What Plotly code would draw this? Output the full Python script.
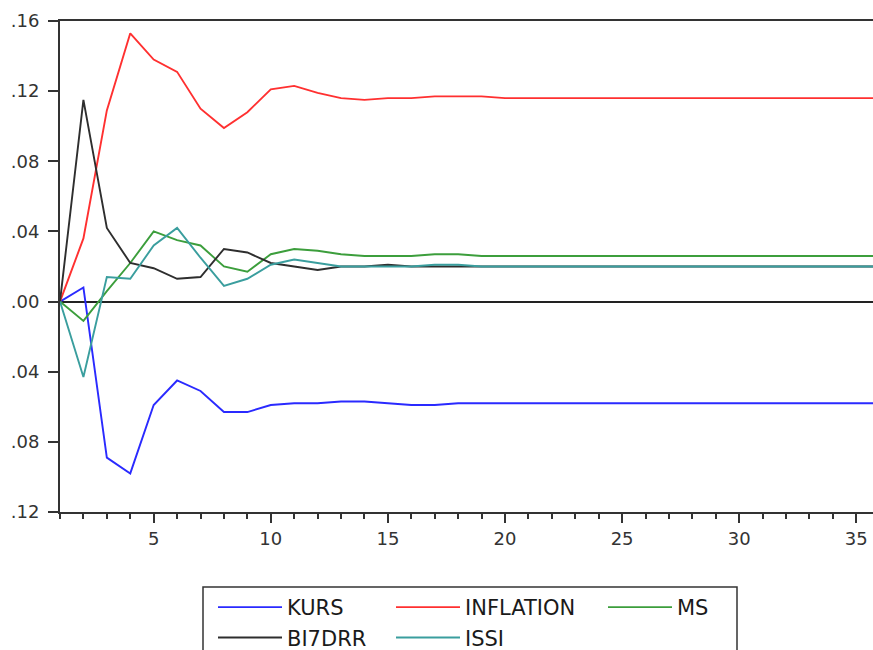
import plotly.graph_objects as go

# ---- data ----
periods = [1, 2, 3, 4, 5, 6, 7, 8, 9, 10, 11, 12,
           13, 14, 15, 16, 17, 18, 19, 20, 21, 22, 23, 24,
           25, 26, 27, 28, 29, 30, 31, 32, 33, 34, 35, 36, 37]

kurs = [0.000, 0.008, -0.089, -0.098, -0.059, -0.045,
        -0.051, -0.063, -0.063, -0.059, -0.058, -0.058,
        -0.057, -0.057, -0.058, -0.059, -0.059, -0.058,
        -0.058, -0.058, -0.058, -0.058, -0.058, -0.058,
        -0.058, -0.058, -0.058, -0.058, -0.058, -0.058,
        -0.058, -0.058, -0.058, -0.058, -0.058, -0.058, -0.058]

inflation = [0.000, 0.036, 0.109, 0.153, 0.138, 0.131,
             0.110, 0.099, 0.108, 0.121, 0.123, 0.119,
             0.116, 0.115, 0.116, 0.116, 0.117, 0.117,
             0.117, 0.116, 0.116, 0.116, 0.116, 0.116,
             0.116, 0.116, 0.116, 0.116, 0.116, 0.116,
             0.116, 0.116, 0.116, 0.116, 0.116, 0.116, 0.116]

ms = [0.000, -0.011, 0.006, 0.022, 0.040, 0.035,
      0.032, 0.020, 0.017, 0.027, 0.030, 0.029,
      0.027, 0.026, 0.026, 0.026, 0.027, 0.027,
      0.026, 0.026, 0.026, 0.026, 0.026, 0.026,
      0.026, 0.026, 0.026, 0.026, 0.026, 0.026,
      0.026, 0.026, 0.026, 0.026, 0.026, 0.026, 0.026]

bi7drr = [0.000, 0.115, 0.042, 0.022, 0.019, 0.013,
          0.014, 0.030, 0.028, 0.022, 0.020, 0.018,
          0.020, 0.020, 0.021, 0.020, 0.020, 0.020,
          0.020, 0.020, 0.020, 0.020, 0.020, 0.020,
          0.020, 0.020, 0.020, 0.020, 0.020, 0.020,
          0.020, 0.020, 0.020, 0.020, 0.020, 0.020, 0.020]

issi = [0.000, -0.043, 0.014, 0.013, 0.032, 0.042,
        0.025, 0.009, 0.013, 0.021, 0.024, 0.022,
        0.020, 0.020, 0.020, 0.020, 0.021, 0.021,
        0.020, 0.020, 0.020, 0.020, 0.020, 0.020,
        0.020, 0.020, 0.020, 0.020, 0.020, 0.020,
        0.020, 0.020, 0.020, 0.020, 0.020, 0.020, 0.020]

series_names = ["KURS", "INFLATION", "MS", "BI7DRR", "ISSI"]
series_values = [kurs, inflation, ms, bi7drr, issi]
series_colors = ["#2a2aff", "#ff3030", "#3c9e3c", "#2e2e2e", "#3a9e9e"]
series_legends = ["legend", "legend2", "legend3", "legend", "legend2"]

y_tickvals = [0.16, 0.12, 0.08, 0.04, 0.00, -0.04, -0.08, -0.12]
y_ticktext = [".16", ".12", ".08", ".04", ".00", ".04", ".08", ".12"]

# ---- figure geometry ----
W, H = 873, 650
L, R, T, B = 60, 0, 21, 138
PW = W - L - R
PH = H - T - B
PX_PER_PERIOD = 23.42


def px_x(px):
    return (px - L) / PW


def px_y(py):
    return (H - B - py) / PH


fig = go.Figure()
for name, vals, color, leg in zip(series_names, series_values, series_colors, series_legends):
    fig.add_trace(go.Scatter(x=periods, y=vals, mode="lines", name=name,
                             line=dict(color=color, width=1.9), legend=leg,
                             hoverinfo="x+y+name"))

legend_common = dict(orientation="v", xanchor="left", yanchor="top",
                     bgcolor="rgba(0,0,0,0)", borderwidth=0, itemwidth=64,
                     tracegroupgap=0,
                     font=dict(family="DejaVu Sans", size=21, color="#1a1a1a"))

axis_col = "#333333"
tick_font = dict(family="DejaVu Sans", size=18, color="#333333")
fig.update_layout(
    width=W, height=H,
    margin=dict(l=L, r=R, t=T, b=B, autoexpand=False),
    paper_bgcolor="white", plot_bgcolor="white",
    showlegend=True,
    legend=dict(x=px_x(213), y=px_y(587), **legend_common),
    legend2=dict(x=px_x(391), y=px_y(587), **legend_common),
    legend3=dict(x=px_x(603), y=px_y(587), **legend_common),
    xaxis=dict(range=[1, 1 + PW / PX_PER_PERIOD], tickmode="linear", tick0=0, dtick=5,
               ticks="outside", ticklen=9, tickwidth=1.5, tickcolor=axis_col,
               showline=True, linewidth=2, linecolor=axis_col, mirror=True,
               showgrid=False, zeroline=False,
               minor=dict(dtick=1, tick0=0, ticks="outside", ticklen=5,
                          tickwidth=1.5, tickcolor=axis_col, showgrid=False),
               tickfont=tick_font),
    yaxis=dict(range=[-0.12, 0.16], tickmode="array", tickvals=y_tickvals,
               ticktext=y_ticktext, ticks="outside", ticklen=10, tickwidth=1.5,
               tickcolor=axis_col, showline=True, linewidth=2, linecolor=axis_col,
               mirror=False, showgrid=False, zeroline=True,
               zerolinecolor="#222222", zerolinewidth=1.6, ticklabelstandoff=5,
               tickfont=tick_font),
    shapes=[dict(type="rect", xref="paper", yref="paper",
                 x0=px_x(203), x1=px_x(737), y0=px_y(587), y1=px_y(680),
                 line=dict(color="#333333", width=1.5), fillcolor="rgba(0,0,0,0)")],
)

fig.write_html(
    "out.html",
    config={"displayModeBar": False},
    post_script="document.body.style.margin='0px';"
                "document.documentElement.style.overflow='hidden';",
)
